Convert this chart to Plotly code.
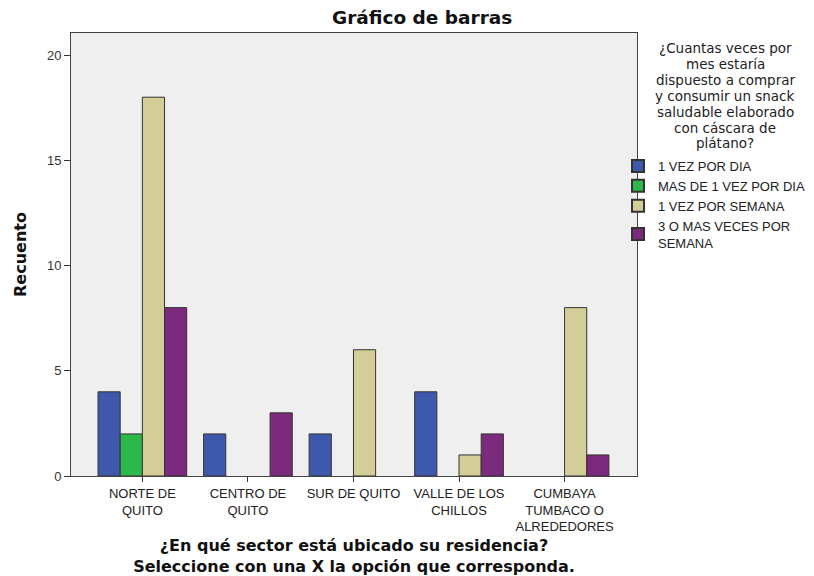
import plotly.graph_objects as go

categories = ["NORTE DE<br>QUITO", "CENTRO DE<br>QUITO", "SUR DE QUITO", "VALLE DE LOS<br>CHILLOS", "CUMBAYA<br>TUMBACO O<br>ALREDEDORES"]
series_names = ["1 VEZ POR DIA", "MAS DE 1 VEZ POR DIA", "1 VEZ POR SEMANA", "3 O MAS VECES POR<br>SEMANA"]
vez_por_dia = [4, 2, 2, 4, 0]
mas_de_1_vez = [2, 0, 0, 0, 0]
vez_por_semana = [18, 0, 6, 1, 8]
tres_o_mas = [8, 3, 0, 2, 1]
series_values = [vez_por_dia, mas_de_1_vez, vez_por_semana, tres_o_mas]
colors = ["#3E58AC", "#2DB84C", "#D3CE97", "#7B2A7E"]
y_ticks = [0, 5, 10, 15, 20]
legend_title_lines = ["¿Cuantas veces por", "mes estaría", "dispuesto a comprar",
                      "y consumir un snack", "saludable elaborado", "con cáscara de", "plátano?"]

ARIAL = "Liberation Sans, Arial, sans-serif"
WIDE = "DejaVu Sans, sans-serif"

fig = go.Figure()
for name, vals, col in zip(series_names, series_values, colors):
    fig.add_trace(go.Bar(
        x=list(range(len(categories))),
        y=[v if v else None for v in vals],
        name=name,
        marker=dict(color=col, line=dict(color="#333333", width=1)),
    ))

fig.update_layout(
    width=814, height=576,
    margin=dict(l=71, r=177, t=33, b=100, autoexpand=False),
    paper_bgcolor="white", plot_bgcolor="#EFEFEF",
    barmode="group", bargap=0.16, bargroupgap=0,
    font=dict(family=ARIAL, size=13, color="#222222"),
    xaxis=dict(
        range=[-0.676, 4.686], tickmode="array", tickvals=list(range(len(categories))),
        ticktext=categories, ticks="outside", ticklen=5, tickcolor="#333333",
        showgrid=False, zeroline=False, showline=True, linecolor="#444444", mirror=True,
        tickfont=dict(size=13, color="#222222", family=ARIAL), automargin=False,
        title=dict(text="<b>¿En qué sector está ubicado su residencia?<br>Seleccione con una X la opción que corresponda.</b>",
                   font=dict(size=16, color="#111111", family=WIDE), standoff=8),
    ),
    yaxis=dict(
        range=[0, 21.05], tickmode="array", tickvals=y_ticks, ticks="outside", ticklen=6,
        tickcolor="#333333", showgrid=False, zeroline=False, showline=True, automargin=False,
        linecolor="#444444", mirror=True, tickfont=dict(size=13, color="#333333", family=ARIAL),
        title=dict(text="<b>Recuento</b>", font=dict(size=16, color="#111111", family=WIDE), standoff=16),
    ),
    legend=dict(
        xref="container", yref="container",
        x=618 / 814, xanchor="left", y=1 - 151 / 576, yanchor="top",
        font=dict(size=13, color="#222222", family=ARIAL), bgcolor="rgba(0,0,0,0)",
        tracegroupgap=0, itemsizing="constant", traceorder="normal",
        itemwidth=30,
    ),
    showlegend=True,
)

fig.add_annotation(
    text="<b>Gráfico de barras</b>",
    xref="paper", yref="paper", x=(422 - 71) / 566, y=1 + (33 - 17) / 443,
    xanchor="center", yanchor="middle", showarrow=False,
    font=dict(size=18.5, color="#111111", family=WIDE),
)

for i, line in enumerate(legend_title_lines):
    ypix = 48 + i * 15.9
    fig.add_annotation(
        text=line,
        xref="paper", yref="paper", x=(725 - 71) / 566, y=1 - (ypix - 33) / 443,
        xanchor="center", yanchor="middle", showarrow=False, align="center",
        font=dict(size=13.5, color="#222222", family=WIDE),
    )

fig.write_html("out.html")
